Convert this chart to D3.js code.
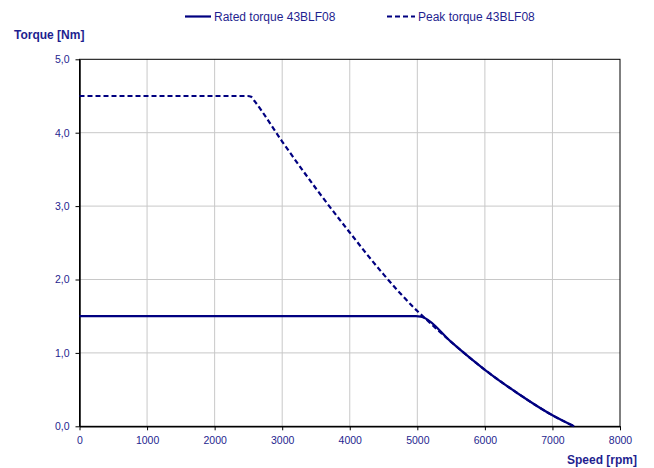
<!DOCTYPE html>
<html><head><meta charset="utf-8">
<script src="https://cdn.jsdelivr.net/npm/d3@7"></script>
<style>body{margin:0;background:#fff;}svg{display:block;font-family:"Liberation Sans",Arial,sans-serif;}</style>
</head><body>
<svg id="c" width="654" height="468"></svg>
<script>
const xTicks = [0,1000,2000,3000,4000,5000,6000,7000,8000];
const yTicks = [0,1,2,3,4,5];
const ratedSpeed  = [0, 4980, 5050, 5110, 5500, 6000, 6500, 7000, 7320];
const ratedTorque = [1.5, 1.5, 1.495, 1.475, 1.15, 0.77, 0.44, 0.15, 0.0];
const peakSpeed  = [0, 2490, 2540, 2600, 3000, 3500, 4000, 4500, 5000, 5110, 5500, 6000, 6500, 7000, 7320];
const peakTorque = [4.5, 4.5, 4.49, 4.42, 3.88, 3.24, 2.64, 2.07, 1.57, 1.475, 1.15, 0.77, 0.44, 0.15, 0.0];
const seriesNames = ["Rated torque 43BLF08", "Peak torque 43BLF08"];

const svg = d3.select("#c");
const L = 79.5, R = 620, T = 59.3, B = 426.3;
const x = d3.scaleLinear().domain([0,8000]).range([L,R]);
const y = d3.scaleLinear().domain([0,5]).range([B,T]);
const navy = "#000080", lbl = "#1f1f8f";

// gridlines
svg.append("g").selectAll("line").data(xTicks.slice(1,-1)).join("line")
  .attr("x1",d=>x(d)).attr("x2",d=>x(d)).attr("y1",T).attr("y2",B)
  .attr("stroke","#c8c8c8").attr("stroke-width",1);
svg.append("g").selectAll("line").data(yTicks.slice(1,-1)).join("line")
  .attr("x1",L).attr("x2",R).attr("y1",d=>y(d)).attr("y2",d=>y(d))
  .attr("stroke","#c8c8c8").attr("stroke-width",1);

// border
svg.append("rect").attr("x",L).attr("y",T).attr("width",R-L).attr("height",B-T)
  .attr("fill","none").attr("stroke","#000").attr("stroke-width",1);

// axes
const xa = svg.append("g").attr("transform",`translate(0,${B})`)
  .call(d3.axisBottom(x).tickValues(xTicks).tickSize(4).tickSizeOuter(0).tickFormat(d3.format("d")));
const ya = svg.append("g").attr("transform",`translate(${L},0)`)
  .call(d3.axisLeft(y).tickValues(yTicks).tickSize(4).tickSizeOuter(0).tickFormat(d=>d3.format(".1f")(d).replace(".",",")));
[xa,ya].forEach(a=>{
  a.select(".domain").attr("stroke","#000").attr("stroke-width",1.5);
  a.selectAll(".tick line").attr("stroke","#000");
  a.selectAll("text").attr("fill",lbl).attr("font-size",10.5).attr("font-family","Liberation Sans, Arial, sans-serif");
});
xa.selectAll("text").attr("dy","1.05em");
ya.selectAll("text").attr("x",-10);

// lines
const line = d3.line().x(d=>x(d[0])).y(d=>y(d[1])).curve(d3.curveMonotoneX);
const peak = peakSpeed.map((s,i)=>[s,peakTorque[i]]);
const rated = ratedSpeed.map((s,i)=>[s,ratedTorque[i]]);
svg.append("path").datum(peak).attr("d",line).attr("fill","none")
  .attr("stroke",navy).attr("stroke-width",2.2).attr("stroke-dasharray","5,3");
svg.append("path").datum(rated).attr("d",line).attr("fill","none")
  .attr("stroke",navy).attr("stroke-width",2.2);

// legend
const lg = svg.append("g");
lg.append("line").attr("x1",185).attr("x2",211).attr("y1",16.5).attr("y2",16.5).attr("stroke",navy).attr("stroke-width",2.2);
lg.append("text").attr("x",214).attr("y",20.5).text(seriesNames[0]).attr("fill",lbl).attr("font-size",12);
lg.append("line").attr("x1",387).attr("x2",415).attr("y1",16.5).attr("y2",16.5).attr("stroke",navy).attr("stroke-width",2.2).attr("stroke-dasharray","5,3");
lg.append("text").attr("x",418).attr("y",20.5).text(seriesNames[1]).attr("fill",lbl).attr("font-size",12);

// axis titles
svg.append("text").attr("x",14).attr("y",39).text("Torque [Nm]").attr("fill",lbl).attr("font-size",12).attr("font-weight","bold");
svg.append("text").attr("x",637).attr("y",464).attr("text-anchor","end").text("Speed [rpm]").attr("fill",lbl).attr("font-size",12).attr("font-weight","bold");
</script>
</body></html>
